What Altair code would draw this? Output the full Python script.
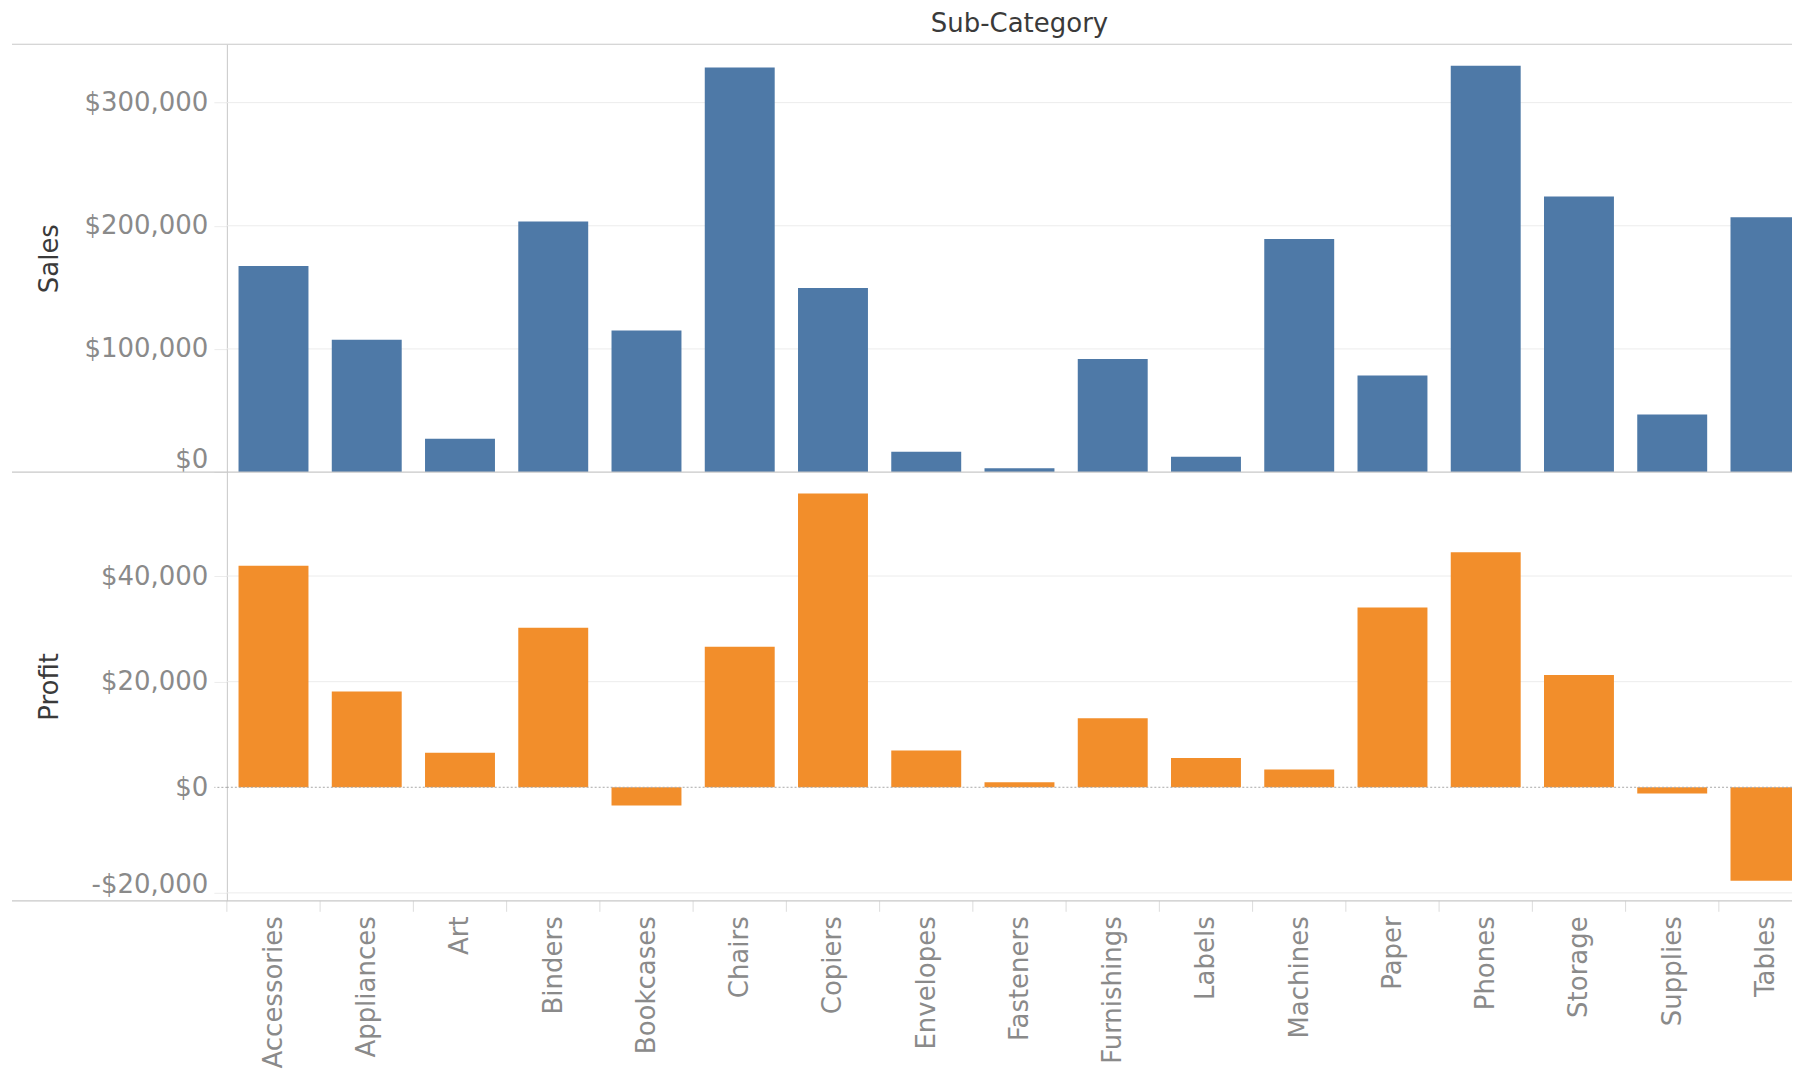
import altair as alt
import pandas as pd

# Superstore totals by sub-category
sub_categories = [
    "Accessories", "Appliances", "Art", "Binders", "Bookcases", "Chairs",
    "Copiers", "Envelopes", "Fasteners", "Furnishings", "Labels", "Machines",
    "Paper", "Phones", "Storage", "Supplies", "Tables",
]
sales = [167380, 107532, 27119, 203413, 114880, 328449, 149528, 16476, 3024,
         91705, 12486, 189239, 78479, 330007, 223844, 46674, 206966]
profit = [41937, 18138, 6528, 30222, -3473, 26590, 55618, 6964, 950,
          13059, 5546, 3385, 34054, 44516, 21279, -1189, -17725]

sales_ticks = [0, 100000, 200000, 300000]
profit_ticks = [-20000, 0, 20000, 40000]
sales_domain = [0, 347400]
profit_domain = [-21500, 59700]

n = len(sub_categories)
df = pd.DataFrame({"Sub-Category": sub_categories, "Sales": sales, "Profit": profit,
                   "idx": list(range(n))})
sales_grid = pd.DataFrame({"v": [t for t in sales_ticks if t != 0]})
profit_grid = pd.DataFrame({"v": [t for t in profit_ticks if t != 0]})
one = pd.DataFrame({"k": [0]})

# layout (px): each column is STEP wide; the last one runs past the right edge
W = 1566
STEP = 93.3
H1 = 428
H2 = 429
BAR_PAD = 0.125   # gap on each side of a bar, as a share of the column

FONT = "DejaVu Sans"
GRID = "#ececec"
BORDER = "#c8c8c8"
LABEL = "#8a8a8a"
TITLE = "#3a3a3a"
BLUE = "#4E79A7"
ORANGE = "#F28E2B"

money = "(datum.value < 0 ? '-' : '') + '$' + format(abs(datum.value), ',')"
names_js = "[" + ", ".join("'" + s + "'" for s in sub_categories) + "]"

# column position scale: column i spans [i, i+1]
x_scale = alt.Scale(domain=[0, W / STEP], nice=False, zero=False, clamp=True)
sales_scale = alt.Scale(domain=sales_domain, nice=False, zero=False)
profit_scale = alt.Scale(domain=profit_domain, nice=False, zero=False)


def y_axis(title, values, height, base_test, base_value, dotted_zero):
    kw = dict(
        values=values, labelExpr=money, title=title,
        grid=False, domain=True, domainColor=BORDER, domainWidth=1,
        tickSize=13, tickColor=GRID, labelPadding=6,
        labelFont=FONT, labelFontSize=26, labelColor=LABEL,
        labelBaseline={"condition": {"test": base_test, "value": base_value},
                       "value": "middle"},
        titleX=-177, titleY=height / 2, titleAngle=270,
        titleAlign="center", titleBaseline="middle",
        titleFont=FONT, titleFontSize=26, titleFontWeight="normal",
        titleColor=TITLE,
    )
    if dotted_zero:
        kw["tickColor"] = {"condition": {"test": "datum.value === 0", "value": "#a8a8a8"},
                           "value": GRID}
        kw["tickDash"] = {"condition": {"test": "datum.value === 0", "value": [2, 2]},
                          "value": []}
    return alt.Axis(**kw)


def gridlines(frame, scale):
    return alt.Chart(frame).mark_rule(color=GRID, strokeWidth=1).encode(
        y=alt.Y("v:Q", scale=scale), x=alt.value(0), x2=alt.value(W)
    )


def bars(measure, color, scale, axis, x_axis):
    return (
        alt.Chart(df)
        .transform_calculate(x0=f"datum.idx + {BAR_PAD}", x1=f"datum.idx + {1 - BAR_PAD}")
        .mark_bar(color=color, clip=True)
        .encode(
            x=alt.X("x0:Q", scale=x_scale, axis=x_axis),
            x2="x1:Q",
            y=alt.Y(f"{measure}:Q", scale=scale, axis=axis),
            y2=alt.Y2(datum=0),
        )
    )


# ---- Sales pane ----
sales_bars = bars("Sales", BLUE, sales_scale,
                  y_axis("Sales", sales_ticks, H1, "datum.value === 0", "bottom", False),
                  None)

anchor = alt.Chart(one).mark_rule(color="white", strokeWidth=1).encode(
    x=alt.value(-226.5), x2=alt.value(-200), y=alt.value(-43.5)
)
top_border = alt.Chart(one).mark_rule(color=BORDER, strokeWidth=1.2).encode(
    x=alt.value(-215), x2=alt.value(W), y=alt.value(0)
)
mid_border = alt.Chart(one).mark_rule(color=BORDER, strokeWidth=1.2).encode(
    x=alt.value(-215), x2=alt.value(W), y=alt.value(H1)
)
header = alt.Chart(one).mark_text(
    text="Sub-Category", font=FONT, fontSize=26, color=TITLE,
    align="center", baseline="alphabetic",
).encode(x=alt.value(n * STEP / 2), y=alt.value(-12.5))

sales_view = alt.layer(
    anchor, gridlines(sales_grid, sales_scale), sales_bars, top_border, mid_border, header
).properties(width=W, height=H1)

# ---- Profit pane ----
category_axis = alt.Axis(
    title=None, values=[i + 0.5 for i in range(n)],
    labelExpr=f"{names_js}[floor(datum.value)]",
    labelAngle=-90, labelFont=FONT, labelFontSize=26, labelColor=LABEL,
    labelPadding=15, labelLimit=400, labelFlush=False, labelOverlap=False,
    ticks=False, domain=False, grid=False,
)
profit_bars = bars("Profit", ORANGE, profit_scale,
                   y_axis("Profit", profit_ticks, H2, "datum.value < -10000", "alphabetic", True),
                   category_axis)

# separators between columns, below the pane
column_ticks = alt.Chart(df).mark_rule(color="#dcdcdc", strokeWidth=1).encode(
    x=alt.X("idx:Q", scale=x_scale),
    y=alt.value(H2), y2=alt.value(H2 + 11),
)

zero_line = alt.Chart(one).mark_rule(color="#a8a8a8", strokeDash=[2, 2], strokeWidth=1).encode(
    y=alt.Y(datum=0), x=alt.value(0), x2=alt.value(W)
)
bottom_border = alt.Chart(one).mark_rule(color=BORDER, strokeWidth=1.2).encode(
    x=alt.value(-215), x2=alt.value(W), y=alt.value(H2)
)

profit_view = alt.layer(
    gridlines(profit_grid, profit_scale), profit_bars, column_ticks, zero_line, bottom_border
).properties(width=W, height=H2)

chart = (
    alt.vconcat(sales_view, profit_view, spacing=0, bounds="flush")
    .resolve_scale(y="independent")
    .properties(padding=0)
    .configure_view(strokeWidth=0)
)

chart.save("out.html", embed_options={"renderer": "svg", "actions": False})
